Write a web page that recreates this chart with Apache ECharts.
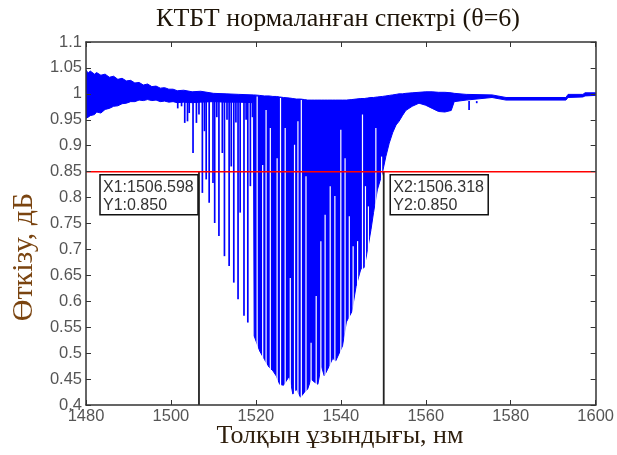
<!DOCTYPE html>
<html><head><meta charset="utf-8">
<script src="https://cdn.jsdelivr.net/npm/echarts@6/dist/echarts.min.js"></script>
<style>html,body{margin:0;padding:0;background:#fff}#c{width:617px;height:455px}</style>
</head><body><div id="c"></div>
<script>
// ---------- data ----------
const xTicks = [1480, 1500, 1520, 1540, 1560, 1580, 1600];
const yTicks = ['0.4','0.45','0.5','0.55','0.6','0.65','0.7','0.75','0.8','0.85','0.9','0.95','1','1.05','1.1'];

// dense ripple band of the spectrum (solid blue region): wavelength, upper edge, lower edge
const bandWl = [1480,1480.5,1481,1482,1482.5,1483.5,1484.5,1485.5,1486.5,1487.5,1488.5,1489.5,1490.5,1491.5,1492.5,1493.5,1494.5,1495.5,1496.5,1497.5,1498.5,1499.5,1500.5,1501.5,1503,1505,1507,1510,1513,1516,1519.4,
  1519.6,1520.9,1522.0,1523.1,1524.0,1524.8,1525.6,1526.5,1527.9,1528.7,1529.5,1530.5,1531.4,1532.2,1533.0,1533.8,1534.6,1535.4,1536.1,1536.9,1538.1,1538.8,1540.4,1541.3,1542.6,1543.6,1544.7,1545.5,1546.3,1547.1,1547.7,1548.6,1549.8,
  1550.6,1551.4,1552.2,1553.0,1553.7,1554.5,1555.3,1556.8,1558.4,1560,1561.5,1563,1564.5,1566,1566.7,1569.5,1575.6,1578.9,1593,1593.5,1597,1597.5,1600];
const bandHigh = [1.046,1.040,1.044,1.038,1.041,1.036,1.038,1.032,1.034,1.028,1.030,1.025,1.026,1.021,1.022,1.017,1.019,1.014,1.015,1.011,1.012,1.009,1.009,1.006,1.007,1.004,1.005,1.001,1.000,0.999,0.998,
  0.998,0.997,0.996,0.996,0.995,0.995,0.994,0.993,0.992,0.991,0.990,0.990,0.989,0.988,0.988,0.988,0.988,0.988,0.988,0.988,0.988,0.988,0.988,0.988,0.989,0.990,0.991,0.991,0.992,0.993,0.993,0.994,0.995,
  0.996,0.997,0.998,0.999,1.000,1.000,1.001,1.002,1.003,1.004,1.004,1.003,1.003,1.002,1.001,0.999,0.998,0.993,0.993,0.999,0.999,1.002,1.002];
const bandLow = [0.953,0.955,0.958,0.960,0.965,0.963,0.970,0.972,0.976,0.977,0.981,0.982,0.985,0.985,0.988,0.987,0.989,0.987,0.988,0.985,0.986,0.984,0.985,0.983,0.984,0.983,0.984,0.985,0.984,0.984,0.983,
  0.533,0.504,0.488,0.473,0.466,0.456,0.440,0.438,0.456,0.421,0.431,0.415,0.424,0.431,0.450,0.444,0.440,0.476,0.456,0.469,0.490,0.485,0.514,0.560,0.580,0.629,0.662,0.665,0.700,0.738,0.771,0.815,0.848,
  0.879,0.905,0.925,0.940,0.947,0.958,0.968,0.976,0.982,0.978,0.972,0.966,0.965,0.968,0.985,0.988,0.993,0.988,0.988,0.993,0.994,0.996,0.997];

// isolated transmission dips: wavelength and minimum
const dipWl  = [1501.6,1502.5,1503.25,1503.9,1504.3,1505.2,1506.0,1506.6,1507.4,1507.9,1508.3,1509.0,1509.9,1510.3,1510.8,1511.3,1512.1,1512.6,1513.2,1513.7,1514.2,1514.8,1515.3,1515.8,1516.3,1517.2,1517.7,1518.1,1518.7,1519.2,1570.2,1572.0];
const dipMin = [0.972,0.976,0.944,0.947,0.963,0.886,0.944,0.960,0.809,0.928,0.835,0.790,0.828,0.751,0.955,0.726,0.886,0.687,0.950,0.668,0.860,0.636,0.945,0.604,0.771,0.572,0.950,0.559,0.822,0.955,0.969,0.982];

// narrow transmission peaks between merged dips (white gaps): wavelength and level where the gap opens
const gapWl  = [1520.3,1521.6,1522.4,1523.4,1525.0,1525.8,1526.9,1528.1,1529.1,1529.9,1530.7,1531.8,1533.0,1534.2,1535.3,1536.3,1537.5,1538.6,1540.0,1541.0,1542.0,1542.9,1543.95,1545.1,1545.8,1546.5,1548.25,1549.6];
const gapTop = [0.995,0.863,0.969,0.934,0.876,0.992,0.934,0.645,0.902,0.947,0.988,0.841,0.520,0.610,0.716,0.767,0.822,0.803,0.931,0.876,0.764,0.706,0.716,0.960,0.822,0.783,0.934,0.879];

// data cursors
const cursorX = [1506.6, 1550.1];
const cursorY = 0.85;
const cursorText = [['X1:1506.598', 'Y1:0.850'], ['X2:1506.318', 'Y2:0.850']];

// ---------- chart ----------
const X_MIN = 1480, X_MAX = 1600, Y_MIN = 0.4, Y_MAX = 1.1, DIP_FROM = 0.986;
const BLUE = '#0000ff';
const chart = echarts.init(document.getElementById('c'), null, {renderer: 'canvas'});

function axisCommon(extra) {
  return Object.assign({
    type: 'value',
    axisLine: {show: true, onZero: false, lineStyle: {color: '#333', width: 1.5}},
    axisTick: {show: true, inside: true, length: 5, lineStyle: {color: '#333', width: 1}},
    splitLine: {show: false},
    z: 10
  }, extra);
}
const xFmt = v => { const t = xTicks.find(k => Math.abs(k - v) < 1e-6); return t === undefined ? '' : String(t); };
const yFmt = v => { const t = yTicks.find(k => Math.abs(parseFloat(k) - v) < 1e-6); return t === undefined ? '' : t; };

const tickFont = {color: '#555', fontSize: 16.5, fontFamily: 'Liberation Sans'};

chart.setOption({
  animation: false,
  backgroundColor: '#fff',
  grid: {left: 86, right: 20, top: 42, bottom: 50},
  xAxis: [
    axisCommon({min: X_MIN, max: X_MAX, interval: 20, position: 'bottom',
      axisLabel: Object.assign({margin: 3, formatter: xFmt}, tickFont)}),
    axisCommon({min: X_MIN, max: X_MAX, interval: 20, position: 'top', axisLabel: {show: false}})
  ],
  yAxis: [
    axisCommon({min: Y_MIN, max: Y_MAX, interval: 0.05, position: 'left',
      axisLabel: Object.assign({margin: 4, formatter: yFmt}, tickFont)}),
    axisCommon({min: Y_MIN, max: Y_MAX, interval: 0.05, position: 'right', axisLabel: {show: false}})
  ],
  series: [
    { // solid ripple band
      type: 'custom', z: 2, clip: true, silent: true,
      data: bandWl.map((w, i) => [w, bandHigh[i], bandLow[i]]),
      renderItem: (params, api) => {
        if (params.dataIndex !== 0) return null;
        const pts = [];
        for (let i = 0; i < bandWl.length; i++) pts.push(api.coord([bandWl[i], bandHigh[i]]));
        for (let i = bandWl.length - 1; i >= 0; i--) pts.push(api.coord([bandWl[i], bandLow[i]]));
        return {type: 'polygon', shape: {points: pts}, style: {fill: BLUE, stroke: BLUE, lineWidth: 1}};
      }
    },
    { // isolated dips
      type: 'custom', z: 3, clip: true, silent: true,
      data: dipWl.map((w, i) => [w, dipMin[i]]),
      renderItem: (params, api) => {
        const a = api.coord([api.value(0), DIP_FROM]);
        const b = api.coord([api.value(0), api.value(1)]);
        return {type: 'line', shape: {x1: a[0], y1: a[1], x2: b[0], y2: b[1]}, style: {stroke: BLUE, lineWidth: 1.7}};
      }
    },
    { // white gaps between merged dips
      type: 'custom', z: 4, clip: true, silent: true,
      data: gapWl.map((w, i) => [w, gapTop[i]]),
      renderItem: (params, api) => {
        const a = api.coord([api.value(0), api.value(1)]);
        const b = api.coord([api.value(0), Y_MIN]);
        return {type: 'line', shape: {x1: a[0], y1: a[1], x2: b[0], y2: b[1]}, style: {stroke: '#fff', lineWidth: 1.2}};
      }
    },
    { // vertical cursor lines
      type: 'custom', z: 5, clip: true, silent: true,
      data: cursorX.map(x => [x, cursorY]),
      renderItem: (params, api) => {
        const a = api.coord([api.value(0), api.value(1)]);
        const b = api.coord([api.value(0), Y_MIN]);
        return {type: 'line', shape: {x1: a[0], y1: a[1], x2: b[0], y2: b[1]}, style: {stroke: '#222', lineWidth: 1.8}};
      }
    },
    { // red level line
      type: 'custom', z: 6, clip: true, silent: true,
      data: [[X_MIN, cursorY]],
      renderItem: (params, api) => {
        const a = api.coord([X_MIN, api.value(1)]);
        const b = api.coord([X_MAX, api.value(1)]);
        return {type: 'line', shape: {x1: a[0], y1: a[1], x2: b[0], y2: b[1]}, style: {stroke: '#ff0000', lineWidth: 1.5}};
      }
    }
  ]
});

// annotations (title, axis names, cursor boxes)
const lvl = chart.convertToPixel({xAxisIndex: 0, yAxisIndex: 0}, [X_MIN, cursorY]);
const c1 = chart.convertToPixel({xAxisIndex: 0, yAxisIndex: 0}, [cursorX[1], cursorY]);
const boxLeft = [lvl[0] + 14, c1[0] + 6.5];
const graphics = [
  {type: 'text', style: {text: 'КТБТ нормаланған спектрі (θ=6)', x: 338, y: 19, align: 'center', verticalAlign: 'middle', fill: '#1e1408', font: '26px "Liberation Serif"'}},
  {type: 'text', style: {text: 'Толқын ұзындығы, нм', x: 340, y: 436, align: 'center', verticalAlign: 'middle', fill: '#2e1e0c', font: '26px "Liberation Serif"'}},
  {type: 'text', x: 24, y: 257, rotation: Math.PI / 2, style: {text: 'Өткізу, дБ', x: 0, y: 0, align: 'center', verticalAlign: 'middle', fill: '#7a4410', font: '30px "Liberation Serif"'}}
];
cursorText.forEach((lines, i) => {
  const x0 = boxLeft[i], y0 = lvl[1] + 3;
  graphics.push({type: 'rect', z: 20, shape: {x: x0, y: y0, width: 98, height: 40}, style: {fill: '#fff', stroke: '#111', lineWidth: 1.5}});
  graphics.push({type: 'text', z: 21, style: {text: lines[0], x: x0 + 3, y: y0 + 13, verticalAlign: 'middle', fill: '#333', font: '16px "Liberation Sans"'}});
  graphics.push({type: 'text', z: 21, style: {text: lines[1], x: x0 + 3, y: y0 + 31, verticalAlign: 'middle', fill: '#333', font: '16px "Liberation Sans"'}});
});
chart.setOption({graphic: graphics});
</script>
</body></html>
